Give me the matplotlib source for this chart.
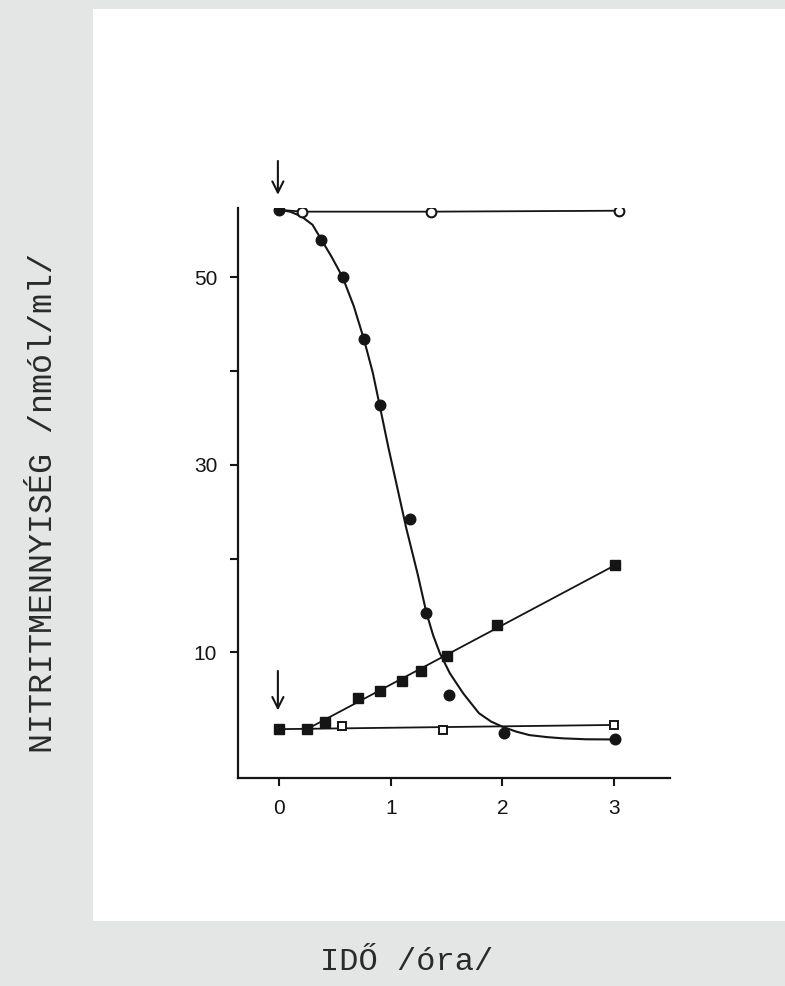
import matplotlib
matplotlib.use("Agg")
import matplotlib.pyplot as plt
from matplotlib.patches import Rectangle

ctrl_x = [0.0, 0.21, 1.36, 3.04]          # open circles line (starts at the first filled point)
ctrl_y = [57.2, 57.0, 57.0, 57.1]

dots_x = [0.0, 0.38, 0.57, 0.76, 0.90, 1.17, 1.32, 1.52, 2.01, 3.01]
dots_y = [57.2, 54.0, 50.0, 43.4, 36.4, 24.2, 14.2, 5.4, 1.35, 0.7]

# hand drawn curve through the filled circles
curve_x = [0.0, 0.10, 0.20, 0.30, 0.38, 0.47, 0.57, 0.67, 0.76, 0.84, 0.90, 0.98,
           1.06, 1.14, 1.24, 1.32, 1.38, 1.44, 1.53, 1.65, 1.79, 1.90, 2.00, 2.12,
           2.24, 2.40, 2.54, 2.75, 3.01]
curve_y = [57.2, 57.0, 56.5, 55.6, 54.0, 52.2, 50.0, 46.9, 43.4, 39.8, 36.4, 31.8,
           27.5, 23.2, 18.4, 14.2, 11.8, 9.9, 7.75, 5.6, 3.5, 2.6, 2.06, 1.55,
           1.17, 0.95, 0.82, 0.72, 0.7]

sq_x = [0.0, 0.25, 0.41, 0.71, 0.90, 1.10, 1.27, 1.50, 1.95, 3.01]
sq_y = [1.8, 1.78, 2.6, 5.1, 5.9, 6.9, 8.0, 9.6, 12.9, 19.3]
sq_line_x = [0.25, 3.01]
sq_line_y = [1.8, 19.3]

osq_x = [0.56, 1.47, 3.0]
osq_y = [2.13, 1.7, 2.24]
osq_line_x = [0.0, 3.0]
osq_line_y = [1.8, 2.25]

yticks = [10, 20, 30, 40, 50]
ylabels = ['10', '', '30', '', '50']
xticks = [0, 1, 2, 3]

ink = '#151515'

fig = plt.figure(figsize=(7.85, 9.86), dpi=100)
fig.patch.set_facecolor('#e4e6e5')
# white paper sheet
fig.add_artist(Rectangle((93 / 785, 65 / 986), 1 - 93 / 785, 912 / 986,
                         transform=fig.transFigure, facecolor='white',
                         edgecolor='none', zorder=0))

ax = fig.add_axes([238 / 785, 208 / 986, 432 / 785, 570 / 986])
ax.patch.set_alpha(0)

ax.plot(ctrl_x, ctrl_y, color=ink, lw=1.3, zorder=2)
ax.plot(ctrl_x[1:], ctrl_y[1:], 'o', ms=7, mfc='white', mec=ink, mew=1.5, zorder=4)

ax.plot(curve_x, curve_y, color=ink, lw=1.5, zorder=2)
ax.plot(dots_x, dots_y, 'o', ms=7.6, color=ink, zorder=4)

ax.plot(sq_line_x, sq_line_y, color=ink, lw=1.3, zorder=2)
ax.plot(osq_line_x, osq_line_y, color=ink, lw=1.3, zorder=2)
ax.plot(sq_x, sq_y, 's', ms=7.4, color=ink, zorder=4)
ax.plot(osq_x, osq_y, 's', ms=6.4, mfc='white', mec=ink, mew=1.4, zorder=4)

# addition arrows
for ytop, ybot in [(62.7, 58.5), (8.3, 3.5)]:
    ax.annotate('', xy=(-0.01, ybot), xytext=(-0.01, ytop),
                arrowprops=dict(arrowstyle='->', color=ink, lw=1.5,
                                mutation_scale=20),
                annotation_clip=False)

ax.set_xlim(-0.367, 3.50)
ax.set_ylim(-3.41, 57.39)
ax.spines['top'].set_visible(False)
ax.spines['right'].set_visible(False)
for s in ['left', 'bottom']:
    ax.spines[s].set_linewidth(1.6)
    ax.spines[s].set_color(ink)
ax.set_xticks(xticks)
ax.set_yticks(yticks)
ax.set_yticklabels(ylabels)
ax.tick_params(direction='out', length=6, width=1.5, color=ink, labelcolor=ink,
               labelsize=15, pad=9)
for lab in ax.get_xticklabels() + ax.get_yticklabels():
    lab.set_family('Liberation Sans')

fig.text(44 / 785, 0.49, 'NITRITMENNYISÉG /nmól/ml/', rotation=90,
         ha='center', va='center', family='Liberation Mono', fontsize=24,
         color='#2a2a2a')
fig.text(407 / 785, 0.024, 'IDŐ /óra/', ha='center', va='center',
         family='Liberation Mono', fontsize=23, color='#2a2a2a')

fig.savefig('out.png', dpi=100, facecolor=fig.get_facecolor())
